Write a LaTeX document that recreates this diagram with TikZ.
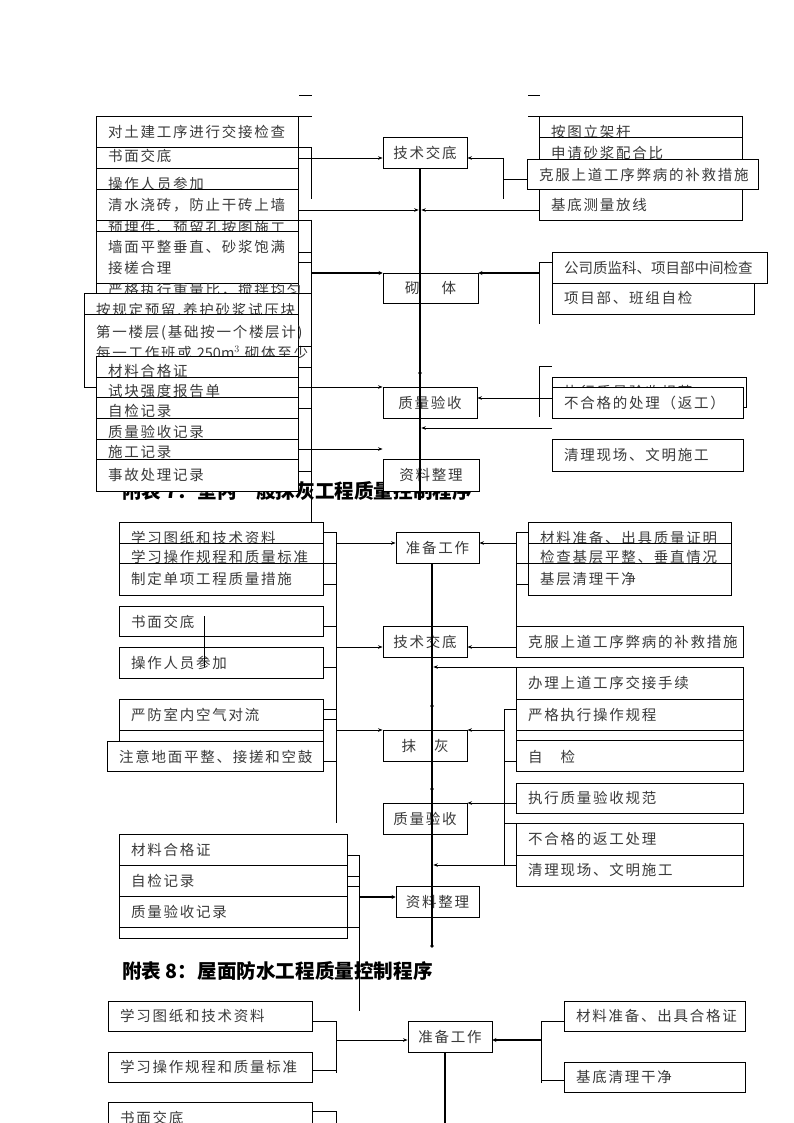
\documentclass[tikz,border=0pt]{standalone}
\usepackage{fontspec}
\usetikzlibrary{arrows.meta}
\newfontfamily\cjk[LetterSpace=12]{Noto Sans CJK SC}
\newfontfamily\cjkt{Noto Sans CJK SC}
\definecolor{ink}{HTML}{3A3A3A}
\tikzset{
  box/.style={draw=black, line width=0.9pt, fill=white, anchor=north west, inner sep=0pt},
  mid/.style={draw=black, line width=0.9pt, fill=white, inner sep=0pt, text=ink,
    font=\cjk\fontsize{14.5}{17}\selectfont},
  lab/.style={anchor=west, inner sep=0pt, text=ink, align=left,
    font=\cjk\fontsize{14.5}{21}\selectfont},
  ttl/.style={anchor=west, inner sep=0pt, font=\cjkt\bfseries\fontsize{19.6}{21}\selectfont},
  ln/.style={line width=0.8pt},
  arr/.style={line width=0.8pt, -{Stealth[length=4.5pt,width=3.5pt]}},
  trunk/.style={line width=2.6pt},
  tarr/.style={line width=2.4pt, -{Stealth[length=4pt,width=4pt]}},
  dot/.style={circle, fill=black, inner sep=1.3pt},
}

\begin{document}
\begin{tikzpicture}[x=1pt,y=-1pt]
  \useasboundingbox (0,0) rectangle (794,1123);
  \fill[white] (0,0) rectangle (794,1123);

  % titles (partly covered by the boxes)
  \node[ttl] (t7) at (122,491) {附表 7：室内一般抹灰工程质量控制程序};
  \node[ttl] (t8) at (122,971) {附表 8：屋面防水工程质量控制程序};

  % side boxes, back to front
  \foreach \n/\xa/\ya/\xb/\yb/\ty/\txt in {
    a1/96/116/298/147/132/{对土建工序进行交接检查},
    a2/96/147/298/168/156/{书面交底},
    a3/96/168/298/199/184/{操作人员参加},
    a4/96/189/298/220/205/{清水浇砖，防止干砖上墙},
    a5/96/220/298/251/228/{预埋件、预留孔按图施工},
    a6/96/231/298/283/257/{墙面平整垂直、砂浆饱满\\接槎合理},
    a7/96/283/298/314/290/{严格执行重量比，搅拌均匀},
    a8/84/293/298/324/310/{按规定预留.养护砂浆试压块},
    a9/84/314/298/387/342/{第一楼层(基础按一个楼层计)\\每一工作班或 {\cjkt 250m$^3$} 砌体至少},
    a10/96/356/298/387/371/{材料合格证},
    a11/96/377/298/408/391/{试块强度报告单},
    a12/96/397/298/428/411/{自检记录},
    a13/96/418/298/449/432/{质量验收记录},
    a14/96/439/298/470/452/{施工记录},
    a15/96/459/298/491/475/{事故处理记录},
    b1/539/116/742/147/132/{按图立架杆},
    b2/539/137/742/168/153/{申请砂浆配合比},
    b3/539/189/742/220/205/{基底测量放线},
    b4/527/159/758/189/175/{克服上道工序弊病的补救措施},
    b5/552/283/754/314/298/{项目部、班组自检},
    b6/552/252/767/283/268/{{\cjkt 公司质监科、项目部中间检查}},
    b7/552/377/746/407/392/{执行质量验收规范},
    b8/552/387/743/418/403/{不合格的处理（返工）},
    b9/552/439/743/471/455/{清理现场、文明施工},
    e1/119/522/323/553/538/{学习图纸和技术资料},
    e2/119/543/323/574/557/{学习操作规程和质量标准},
    e3/119/563/323/595/579/{制定单项工程质量措施},
    e4/119/606/323/636/622/{书面交底},
    e5/119/647/323/678/663/{操作人员参加},
    e6/119/730/323/771/745/{},
    e7/119/699/323/730/715/{严防室内空气对流},
    e8/107/741/323/771/757/{注意地面平整、接搓和空鼓},
    e9/119/907/347/938/930/{},
    e10/119/834/347/865/850/{材料合格证},
    e11/119/865/347/896/881/{自检记录},
    e12/119/896/347/927/912/{质量验收记录},
    f1/528/522/731/553/538/{材料准备、出具质量证明},
    f2/528/543/731/574/557/{检查基层平整、垂直情况},
    f3/528/563/731/595/579/{基层清理干净},
    f4/516/626/743/657/642/{克服上道工序弊病的补救措施},
    f5/516/667/743/699/683/{办理上道工序交接手续},
    f6/516/730/743/771/745/{},
    f7/516/699/743/730/715/{严格执行操作规程},
    f8/516/740/743/771/757/{自\hspace{18pt}检},
    f9/516/783/743/813/798/{执行质量验收规范},
    f10/516/823/743/855/839/{不合格的返工处理},
    f11/516/855/743/886/870/{清理现场、文明施工},
    h1/108/1001/312/1031/1016/{学习图纸和技术资料},
    h2/108/1052/312/1082/1067/{学习操作规程和质量标准},
    h3/108/1102/312/1133/1118/{书面交底},
    h4/564/1001/745/1031/1016/{材料准备、出具合格证},
    h5/564/1062/745/1092/1077/{基底清理干净}}
  {
    \node[box, minimum width=\xb-\xa, minimum height=\yb-\ya] (\n) at (\xa,\ya) {};
    \node[lab] (\n-t) at (\xa+12,\ty) {\txt};
  }

  % middle column
  \node[mid, minimum width=84, minimum height=31] (c1) at (425,152.5) {技术交底};
  \node[mid, minimum width=95, minimum height=30] (c2) at (430.5,288) {砌\hspace{22pt}体};
  \node[mid, minimum width=94, minimum height=31] (c3) at (430,402.5) {质量验收};
  \node[mid, minimum width=96, minimum height=32] (c4) at (431,475) {资料整理};
  \node[mid, minimum width=83, minimum height=31] (g1) at (437.5,547.5) {准备工作};
  \node[mid, minimum width=84, minimum height=31] (g2) at (425,641.5) {技术交底};
  \node[mid, minimum width=84, minimum height=31] (g3) at (425,745.5) {抹\hspace{18pt}灰};
  \node[mid, minimum width=84, minimum height=31] (g4) at (425,818.5) {质量验收};
  \node[mid, minimum width=83, minimum height=31] (g5) at (437.5,901.5) {资料整理};
  \node[mid, minimum width=84, minimum height=31] (m1) at (450,1036.5) {准备工作};

  \coordinate (k1) at (420,500);
  \coordinate (k2) at (432,946);
  \coordinate (k3) at (445,1123);
  \draw[trunk] (c1.south -| k1) -- (k1);
  \draw[trunk] (g1.south -| k2) -- (k2);
  \draw[trunk] (m1.south -| k3) -- (k3);

  % masonry: left side
  \draw[ln] (299,95) -- (312,95) (299,116) -- (312,116) (528,95) -- (540,95) (528,116) -- (539,116);
  \draw[ln] (298,147) -- (311,147) -- (311,199);
  \draw[arr] (298,158) -- (c1.west |- 0,158);
  \draw[arr, shorten >=1.3pt] (a4.east |- 0,210) -- (k1 |- 0,210);
  \draw[ln] (311,220) -- (311,522);
  \foreach \y in {220,252,262,293,346,367,408,471}
    \draw[ln] (298,\y) -- (311,\y);
  \draw[tarr] (311,273) -- (c2.west |- 0,273);
  \draw[arr] (298,387) -- (c3.west |- 0,387);
  \draw[arr] (298,449) -- (c4.west |- 0,449);
  % masonry: right side
  \draw[ln] (503,158) -- (503,199) (503,179) -- (b4.west |- 0,179);
  \draw[arr] (503,158) -- (c1.east |- 0,158);
  \draw[arr, shorten >=1.3pt] (b3.west |- 0,210) -- (k1 |- 0,210);
  \draw[ln] (539,262) -- (539,324) (539,262) -- (b6.west |- 0,262);
  \draw[tarr] (539,273) -- (c2.east |- 0,273);
  \draw[ln] (539,366) -- (539,417) (539,366) -- (552,366);
  \draw[arr] (b8.west |- 0,398) -- (c3.east |- 0,398);
  \draw[arr, shorten >=1.3pt] (552,428) -- (k1 |- 0,428);
  \node[dot] (d1) at (420,373) {};

  % plastering: left side
  \draw[ln] (336,532) -- (336,823);
  \foreach \y in {532,563,584,626,667,709,719,761}
    \draw[ln] (323,\y) -- (336,\y);
  \draw[arr] (336,543) -- (g1.west |- 0,543);
  \draw[arr] (336,647) -- (g2.west |- 0,647);
  \draw[arr] (336,730) -- (g3.west |- 0,730);
  \draw[ln] (204,616) -- (204,667);
  \draw[ln] (359,855) -- (359,1011);
  \foreach \y in {855,876,886,927}
    \draw[ln] (347,\y) -- (359,\y);
  \draw[tarr] (359,897) -- (g5.west |- 0,897);
  % plastering: right side
  \draw[ln] (516,532) -- (516,626);
  \foreach \y in {532,563,584}
    \draw[ln] (516,\y) -- (528,\y);
  \draw[arr] (516,543) -- (g1.east |- 0,543);
  \draw[arr] (516,647) -- (g2.east |- 0,647);
  \draw[arr, shorten >=1.3pt] (f5.north west) -- (k2 |- f5.north west);
  \draw[ln] (504,709) -- (504,865);
  \foreach \y in {709,761,823}
    \draw[ln] (504,\y) -- (516,\y);
  \draw[arr] (504,730) -- (g3.east |- 0,730);
  \draw[arr] (516,803) -- (g4.east |- 0,803);
  \draw[arr, shorten >=1.3pt] (516,865) -- (k2 |- 0,865);
  \foreach \y in {706,789,946}
    \node[dot] at (432,\y) {};

  % roofing
  \draw[ln] (312,1021) -- (336,1021) -- (336,1073) (312,1070) -- (336,1070);
  \draw[arr] (336,1040) -- (m1.west |- 0,1040);
  \draw[ln] (312,1111) -- (336,1111) -- (336,1123);
  \draw[ln] (541,1021) -- (541,1083) (541,1021) -- (h4.west |- 0,1021) (541,1080) -- (h5.west |- 0,1080);
  \draw[tarr] (541,1040) -- (m1.east |- 0,1040);
\end{tikzpicture}
\end{document}
